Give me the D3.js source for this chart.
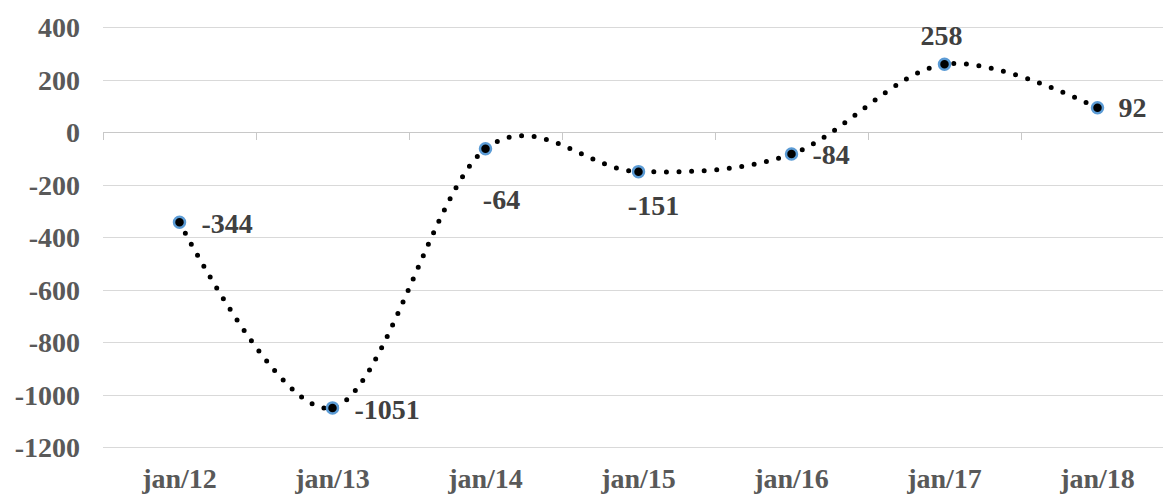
<!DOCTYPE html>
<html>
<head>
<meta charset="utf-8">
<script src="https://cdn.jsdelivr.net/npm/d3@7"></script>
<style>
  html, body { margin: 0; padding: 0; background: #fff; }
  svg text { font-family: "Liberation Serif", "Times New Roman", serif; font-weight: bold; }
</style>
</head>
<body>
<div id="chart"></div>
<script>
// 数据
const categories = ['jan/12', 'jan/13', 'jan/14', 'jan/15', 'jan/16', 'jan/17', 'jan/18'];
const values = [-344, -1051, -64, -151, -84, 258, 92];
const yTicks = [400, 200, 0, -200, -400, -600, -800, -1000, -1200];

// 标签布局 (pixel offsets from the marker)
const labelAnchor = ['start', 'start', 'middle', 'middle', 'start', 'middle', 'start'];
const labelDx = [22, 22, 16, 15, 21, -3, 21];
const labelDy = [1, 2, 51, 34, 0, -29, 0];

const width = 1163;
const height = 495;
const fontSize = '28px';

const svg = d3.select('#chart').append('svg')
    .attr('width', width)
    .attr('height', height);

const x = d3.scaleBand()
    .domain(categories)
    .range([103, 1174])
    .padding(0);

const y = d3.scaleLinear()
    .domain([-1200, 400])
    .range([447, 27]);

// 网格线
svg.append('g')
    .selectAll('line')
    .data(yTicks)
    .enter()
    .append('line')
    .attr('x1', 103)
    .attr('x2', width)
    .attr('y1', d => Math.round(y(d)) + 0.5)
    .attr('y2', d => Math.round(y(d)) + 0.5)
    .attr('stroke', d => d === 0 ? '#c8c8c8' : '#d9d9d9')
    .attr('stroke-width', 1);

// category tick marks on the zero line
const bounds = d3.range(categories.length + 1).map(i => x.range()[0] + i * x.step());
svg.append('g')
    .selectAll('line')
    .data(bounds)
    .enter()
    .append('line')
    .attr('x1', d => Math.round(d) + 0.5)
    .attr('x2', d => Math.round(d) + 0.5)
    .attr('y1', Math.round(y(0)))
    .attr('y2', Math.round(y(0)) + 8)
    .attr('stroke', '#c8c8c8');

// y 轴
const yAxis = svg.append('g')
    .attr('transform', 'translate(103,0)')
    .call(d3.axisLeft(y).tickValues(yTicks).tickSize(0).tickPadding(23).tickFormat(d => String(d)));
yAxis.select('.domain').remove();
yAxis.selectAll('text')
    .attr('fill', '#595959')
    .style('font-size', fontSize)
    .attr('dy', '0.34em');

// x 轴
const xAxis = svg.append('g')
    .attr('transform', 'translate(0,447)')
    .call(d3.axisBottom(x).tickSize(0).tickPadding(21));
xAxis.select('.domain').remove();
xAxis.selectAll('text')
    .attr('fill', '#595959')
    .style('font-size', fontSize);

const points = categories.map((c, i) => ({ c, v: values[i], i }));

// 平滑虚线
const line = d3.line()
    .x(d => x(d.c) + x.bandwidth() / 2)
    .y(d => y(d.v))
    .curve(d3.curveCardinal.tension(0));

svg.append('path')
    .datum(points)
    .attr('d', line)
    .attr('fill', 'none')
    .attr('stroke', '#000')
    .attr('stroke-width', 5)
    .attr('stroke-linecap', 'round')
    .attr('stroke-dasharray', '0 12.6');

// 标记点
svg.append('g')
    .selectAll('circle')
    .data(points)
    .enter()
    .append('circle')
    .attr('cx', d => x(d.c) + x.bandwidth() / 2)
    .attr('cy', d => y(d.v))
    .attr('r', 5.5)
    .attr('fill', '#000')
    .attr('stroke', '#5b9bd5')
    .attr('stroke-width', 2.5);

// 数据标签
svg.append('g')
    .selectAll('text')
    .data(points)
    .enter()
    .append('text')
    .attr('x', d => x(d.c) + x.bandwidth() / 2 + labelDx[d.i])
    .attr('y', d => y(d.v) + labelDy[d.i])
    .attr('dy', '0.34em')
    .attr('text-anchor', d => labelAnchor[d.i])
    .attr('fill', '#404040')
    .style('font-size', fontSize)
    .text(d => d.v);
</script>
</body>
</html>
